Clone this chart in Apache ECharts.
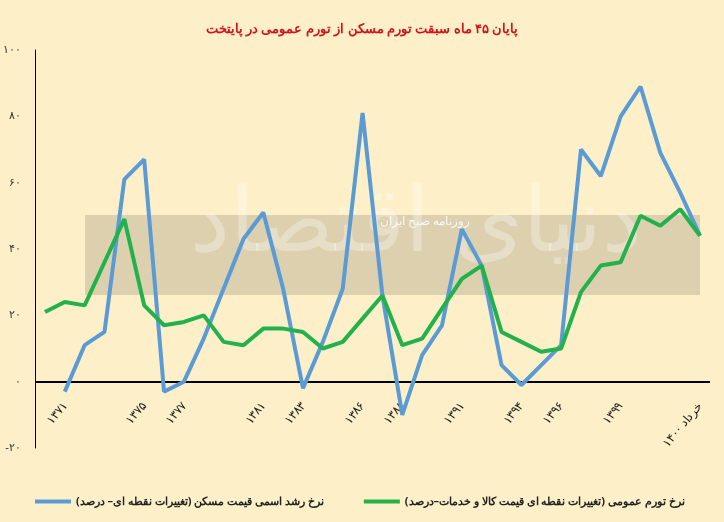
<!DOCTYPE html><html><head><meta charset="utf-8"><script src="https://cdn.jsdelivr.net/npm/echarts@6/dist/echarts.min.js"></script>
<style>html,body{margin:0;background:#fdf0c9}#c{width:724px;height:522px}</style></head><body><div id="c"></div><script>
const categories=['','۱۳۷۱','','','','۱۳۷۵','','۱۳۷۷','','','','۱۳۸۱','','۱۳۸۳','','','۱۳۸۶','','۱۳۸۸','','','۱۳۹۱','','','۱۳۹۴','','۱۳۹۶','','','۱۳۹۹','','','','خرداد ۱۴۰۰'];
const housing=[null,-3,11,15,61,67,-3,0,13,28,43,51,28,-2,12,28,81,26,-10,8,17,46,35,5,-1,5,11,70,62,80,89,69,57,44];
const general=[21,24,23,36,49,23,17,18,20,12,11,16,16,15,10,12,19,26,11,13,22,31,35,15,12,9,10,27,35,36,50,47,52,44];
const fa=n=>String(n).replace(/\d/g,d=>'۰۱۲۳۴۵۶۷۸۹'[d]);
const ch=echarts.init(document.getElementById('c'));
ch.setOption({backgroundColor:'#fdf0c9',
title:{text:'پایان ۴۵ ماه سبقت تورم مسکن از تورم عمومی در پایتخت',left:'center',top:18,textStyle:{color:'#d0141c',fontSize:13,fontWeight:'bold',fontFamily:'Noto Sans'}},
grid:{left:35,right:14,top:50,bottom:74},
graphic:[{type:'rect',left:85,top:215,shape:{width:615,height:80},style:{fill:'rgba(150,135,115,0.3)'},z:0},
{type:'text',left:380,top:216,style:{text:'روزنامه صبح ایران',fill:'rgba(255,255,255,0.85)',fontSize:12,fontFamily:'Noto Sans'},z:0},
{type:'text',left:190,top:180,style:{text:'دنیای اقتصاد',fill:'rgba(255,255,255,0.3)',fontSize:90,fontFamily:'Noto Sans'},z:0}],
legend:{bottom:10,left:30,width:690,itemGap:40,icon:'rect',itemWidth:36,itemHeight:4,textStyle:{fontSize:11,fontWeight:'bold',color:'#222',fontFamily:'Noto Sans'},data:['نرخ رشد اسمی قیمت مسکن (تغییرات نقطه ای– درصد)','نرخ تورم عمومی (تغییرات نقطه ای قیمت کالا و خدمات–درصد)']},
xAxis:{type:'category',data:categories,boundaryGap:true,axisLine:{show:false},axisTick:{show:false},axisLabel:{interval:0,rotate:50,fontSize:12,color:'#222',fontFamily:'Noto Sans',margin:-44}},
yAxis:{type:'value',min:-20,max:100,interval:20,splitLine:{show:false},axisLine:{show:true,lineStyle:{color:'#000',width:1}},axisLabel:{formatter:v=>(v<0?'-':'')+fa(Math.abs(v)),fontSize:11,color:'#333',margin:14}},
series:[{name:'نرخ رشد اسمی قیمت مسکن (تغییرات نقطه ای– درصد)',type:'line',data:housing,symbol:'none',lineStyle:{color:'#5b9bd5',width:4},itemStyle:{color:'#5b9bd5'},z:3,
markLine:{silent:true,symbol:'none',label:{show:false},lineStyle:{color:'#000',width:2,type:'solid'},data:[{yAxis:0}],z:2}},
{name:'نرخ تورم عمومی (تغییرات نقطه ای قیمت کالا و خدمات–درصد)',type:'line',data:general,symbol:'none',lineStyle:{color:'#22b14c',width:4},itemStyle:{color:'#22b14c'},z:3}]});
</script></body></html>
